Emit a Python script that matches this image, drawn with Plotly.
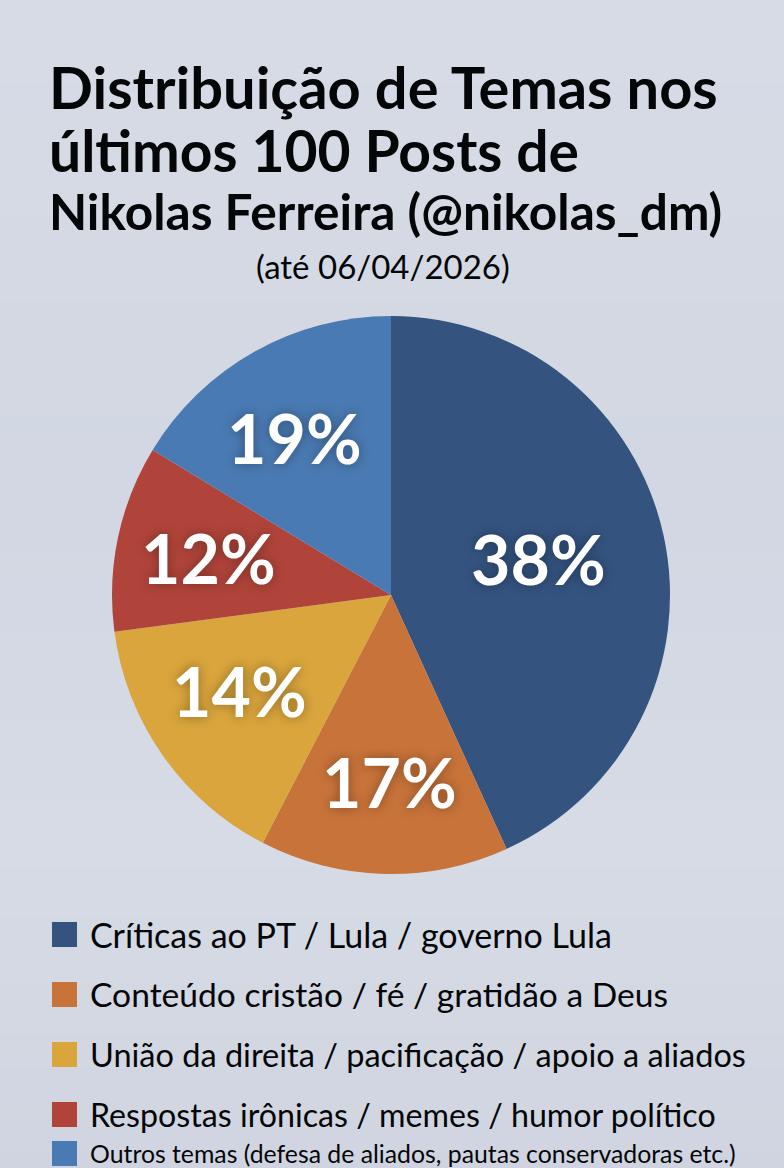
import plotly.graph_objects as go

W, H = 784, 1168
categories = ["Críticas ao PT / Lula / governo Lula", "Conteúdo cristão / fé / gratidão a Deus",
              "União da direita / pacificação / apoio a aliados", "Respostas irônicas / memes / humor político",
              "Outros temas (defesa de aliados, pautas conservadoras etc.)"]
printed_labels = ["38%", "17%", "14%", "12%", "19%"]
drawn_shares = [43.2, 14.4, 15.3, 10.8, 16.3]
colors = ["#34537f", "#c8733a", "#d9a53c", "#b0443a", "#4a7ab3"]
label_xy = [(538, 559), (389, 781), (239, 691), (208, 557), (294, 437)]
legend_y = [934, 994, 1054, 1114, 1153]
legend_size = [34, 33.6, 32.5, 32.2, 24.8]
bg_stops = [(214, 219, 230), (213, 218, 229), (211, 216, 227), (210, 215, 227),
            (212, 217, 228), (214, 219, 230), (211, 216, 227), (207, 212, 224)]

FONT = "Lato"
fig = go.Figure(go.Pie(
    values=drawn_shares, labels=categories, text=printed_labels, textinfo="none",
    sort=False, direction="clockwise", rotation=0,
    marker=dict(colors=colors, line=dict(width=0)),
    domain=dict(x=[112/W, 670/W], y=[1-874/H, 1-316/H]), showlegend=False, hoverinfo="label+text"))

def px_text(txt, x, y, size, weight="normal", anchor="left", color="#050608", shadow=None):
    f = dict(family=FONT, size=size, color=color, weight=weight)
    if shadow:
        f["shadow"] = shadow
    fig.add_annotation(text=txt, x=x/W, y=1-y/H, xref="paper", yref="paper", xanchor=anchor, yanchor="middle",
                       showarrow=False, align=anchor, font=f)

px_text("Distribuição de Temas nos", 47, 87, 57.8, "bold")
px_text("últimos 100 Posts de", 47, 150, 57, "bold")
px_text("Nikolas Ferreira (@nikolas_dm)", 47, 211, 49.6, "bold")
px_text("(até 06/04/2026)", 383, 266, 33, "normal", "center")
for lab, (x, y) in zip(printed_labels, label_xy):
    px_text(lab, x, y, 68, "bold", "center", "white", "0px 0px 12px rgba(0,0,0,0.35)")

shapes = []
steps = 10
n = (len(bg_stops) - 1) * steps
for i in range(n):
    a, b = bg_stops[i // steps], bg_stops[i // steps + 1]
    t = (i % steps) / steps
    rgb = tuple(round(a[k] + (b[k] - a[k]) * t) for k in range(3))
    shapes.append(dict(type="rect", xref="paper", yref="paper", x0=0, x1=1, y0=1-(i+1)/n, y1=1-i/n,
                       fillcolor="rgb(%d,%d,%d)" % rgb, line=dict(width=0), layer="below"))
for name, y, s, c in zip(categories, legend_y, legend_size, colors):
    px_text(name, 88, y, s)
    shapes.append(dict(type="rect", xref="paper", yref="paper", x0=52/W, x1=77/W, y0=1-(y+13)/H, y1=1-(y-12)/H,
                       fillcolor=c, line=dict(width=0)))

fig.update_layout(width=W, height=H, margin=dict(l=0, r=0, t=0, b=0), paper_bgcolor="#d4d9e4",
                  shapes=shapes, font=dict(family=FONT))
fig.write_html("out.html", post_script="document.body.style.margin='0';", config=dict(displayModeBar=False))
